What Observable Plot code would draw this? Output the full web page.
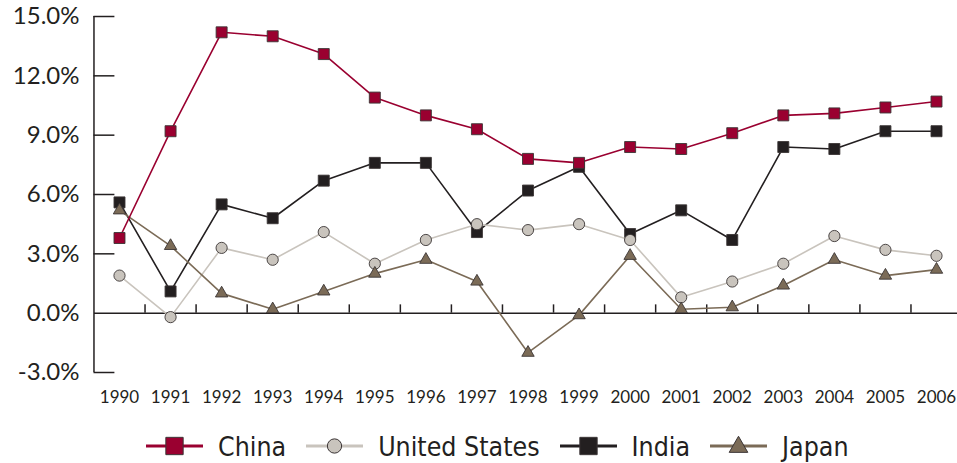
<!DOCTYPE html>
<html><head><meta charset="utf-8">
<script src="https://cdn.jsdelivr.net/npm/d3@7"></script>
<script src="https://cdn.jsdelivr.net/npm/@observablehq/plot@0.6"></script>
<style>
body{margin:0;background:#fff;width:957px;height:463px;position:relative;overflow:hidden}
#legend{position:absolute;left:146px;top:430px;height:32px;display:flex;align-items:center;font-family:"Liberation Sans Narrow","DejaVu Sans Condensed",sans-serif;font-size:26.5px;color:#231f20;white-space:nowrap}
#legend .item{display:flex;align-items:center;margin-right:20px}
#legend svg{margin-right:15px}
</style></head><body><div id="chart"></div><div id="legend"></div>
<script>
const years = [1990,1991,1992,1993,1994,1995,1996,1997,1998,1999,2000,2001,2002,2003,2004,2005,2006];
const china = [3.8,9.2,14.2,14.0,13.1,10.9,10.0,9.3,7.8,7.6,8.4,8.3,9.1,10.0,10.1,10.4,10.7];
const unitedStates = [1.9,-0.2,3.3,2.7,4.1,2.5,3.7,4.5,4.2,4.5,3.7,0.8,1.6,2.5,3.9,3.2,2.9];
const india = [5.6,1.1,5.5,4.8,6.7,7.6,7.6,4.1,6.2,7.4,4.0,5.2,3.7,8.4,8.3,9.2,9.2];
const japan = [5.2,3.4,1.0,0.2,1.1,2.0,2.7,1.6,-2.0,-0.1,2.9,0.2,0.3,1.4,2.7,1.9,2.2];
const yTicks = [-3,0,3,6,9,12,15];
const seriesNames = ["China","United States","India","Japan"];
const seriesColors = {"China":"#9a0030","United States":"#c9c4bd","India":"#231f20","Japan":"#7b6b57"};
const seriesSymbols = {"China":"square","United States":"circle","India":"square","Japan":"triangle"};
const seriesValues = {"China":china,"United States":unitedStates,"India":india,"Japan":japan};
const drawOrder = ["India","United States","Japan","China"];

const ink = "#231f20";
const edge = "#3b3536";
const axisStart = years[0] - 0.5;
const halfYears = years.slice(0, -1).map(y => y + 0.5);

const marks = [
  Plot.ruleX([axisStart], {y1: yTicks[0], y2: yTicks[yTicks.length-1], stroke: ink, strokeWidth: 1.5}),
  Plot.ruleY(yTicks.filter(t => t !== 0), {y: d => d, x1: axisStart, x2: axisStart + 0.41, stroke: ink, strokeWidth: 1.5}),
  Plot.ruleY([0], {stroke: ink, strokeWidth: 1.5}),
  Plot.ruleX(halfYears, {x: d => d, y1: 0, y2: 0.42, stroke: ink, strokeWidth: 1.5}),
  Plot.axisY(yTicks, {label: null, tickSize: 0, tickPadding: 15, tickFormat: d => d.toFixed(1) + "%", fontSize: 24, fill: ink}),
  Plot.axisX(years, {label: null, tickSize: 0, tickPadding: 10, tickFormat: d => String(d), fontSize: 17, fill: ink})
];
for (const name of drawOrder) {
  const data = years.map((yr, i) => ({year: yr, value: seriesValues[name][i]}));
  const sym = seriesSymbols[name];
  marks.push(Plot.line(data, {x: "year", y: "value", stroke: seriesColors[name], strokeWidth: 1.6}));
  marks.push(Plot.dot(data, {x: "year", y: "value", symbol: sym, r: sym === "square" ? 6.2 : sym === "circle" ? 5.6 : 4.6,
    fill: seriesColors[name], stroke: edge, strokeWidth: 0.9, fillOpacity: 1}));
}

const chart = Plot.plot({
  width: 957, height: 415,
  marginLeft: 94, marginRight: 0, marginTop: 0, marginBottom: 35,
  style: {fontFamily: "Lato, 'Open Sans', sans-serif", background: "#fff", color: ink},
  x: {domain: [years[0], years[years.length-1]], range: [119, 936], axis: null},
  y: {domain: [yTicks[0], yTicks[yTicks.length-1]], range: [372, 16], axis: null},
  marks
});
document.getElementById("chart").appendChild(chart);

// legend
const legend = document.getElementById("legend");
for (const name of seriesNames) {
  const item = document.createElement("div");
  item.className = "item";
  const sw = d3.create("svg").attr("width", 57).attr("height", 30);
  sw.append("line").attr("x1", 0).attr("x2", 57).attr("y1", 15).attr("y2", 15)
    .attr("stroke", seriesColors[name]).attr("stroke-width", 3);
  const sym = seriesSymbols[name];
  const size = sym === "square" ? 300 : sym === "circle" ? 160 : 150;
  const type = sym === "square" ? d3.symbolSquare : sym === "circle" ? d3.symbolCircle : d3.symbolTriangle;
  sw.append("path").attr("d", d3.symbol(type, size)()).attr("transform", `translate(28.5,${sym === "triangle" ? 16 : 15})`)
    .attr("fill", seriesColors[name]).attr("stroke", edge).attr("stroke-width", 1);
  item.appendChild(sw.node());
  const t = document.createElement("span");
  t.textContent = name;
  item.appendChild(t);
  legend.appendChild(item);
}
</script>
</body></html>
